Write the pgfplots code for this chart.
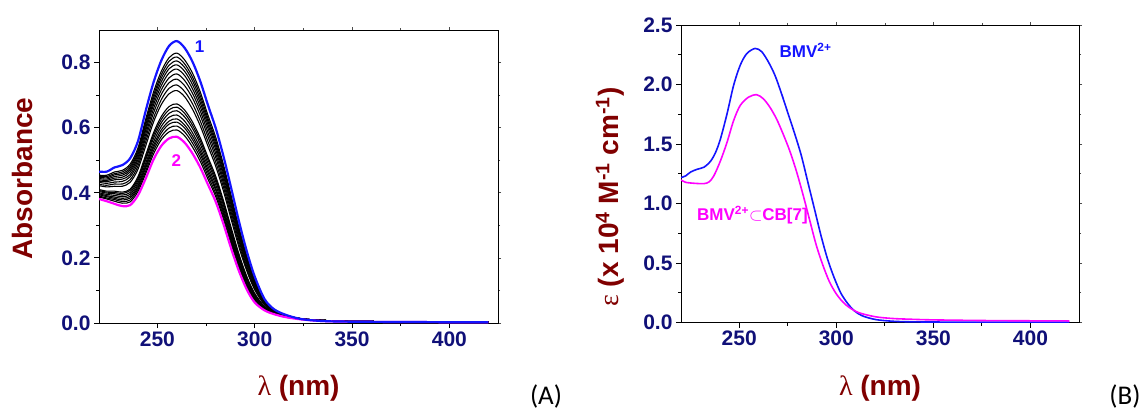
\documentclass[border=0pt]{standalone}
\usepackage{pgfplots}
\pgfplotsset{compat=1.18}
\usepackage{pgfplotstable}
\usepackage{fontspec}
\setmainfont{Liberation Sans}
\newfontfamily\serifsym{Liberation Serif}
\newfontfamily\carlito{Carlito}
\definecolor{navy}{RGB}{16,16,120}
\definecolor{maroon}{RGB}{128,0,0}
\definecolor{cblue}{RGB}{20,20,255}
\definecolor{cmag}{RGB}{255,0,255}

\pgfplotstableread{
x b c1 c2 c3 c4 c5 c6 c7 c8 c9 c10 c11 c12 c13 c14 c15 c16 c17 m
220 .465 .454 .451 .448 .444 .440 .436 .432 .426 .422 .410 .407 .404 .400 .397 .394 .390 .387 .381
224 .465 .454 .450 .446 .442 .438 .434 .429 .423 .418 .405 .402 .399 .395 .391 .388 .384 .381 .374
228 .478 .464 .459 .455 .450 .445 .440 .433 .427 .420 .405 .401 .397 .392 .387 .383 .379 .374 .366
232 .485 .469 .464 .459 .454 .448 .442 .435 .427 .420 .402 .398 .393 .388 .383 .378 .373 .368 .359
236 .506 .488 .482 .476 .470 .464 .456 .449 .440 .432 .411 .407 .401 .395 .389 .384 .378 .372 .362
240 .558 .537 .530 .524 .517 .509 .501 .492 .482 .472 .449 .443 .437 .430 .423 .417 .411 .404 .392
244 .652 .626 .617 .609 .600 .591 .580 .569 .557 .544 .516 .508 .501 .491 .483 .476 .467 .459 .444
248 .739 .709 .699 .690 .680 .670 .658 .645 .630 .617 .584 .576 .567 .556 .546 .538 .529 .519 .502
252 .806 .773 .762 .752 .741 .729 .716 .702 .686 .671 .634 .625 .615 .604 .593 .584 .573 .563 .544
256 .851 .815 .804 .792 .781 .768 .753 .738 .721 .704 .665 .655 .644 .632 .620 .611 .599 .587 .567
260 .866 .829 .817 .805 .793 .780 .765 .749 .731 .714 .673 .663 .652 .639 .627 .617 .605 .593 .572
264 .845 .808 .796 .785 .773 .760 .745 .729 .711 .695 .654 .644 .633 .620 .608 .599 .587 .575 .554
268 .803 .768 .756 .745 .733 .720 .706 .691 .674 .657 .618 .608 .598 .585 .574 .564 .553 .541 .521
272 .743 .710 .699 .688 .677 .665 .652 .638 .621 .606 .569 .560 .550 .538 .528 .519 .508 .497 .478
276 .669 .638 .628 .619 .609 .598 .585 .572 .557 .543 .509 .501 .491 .481 .471 .462 .452 .442 .425
280 .598 .570 .560 .551 .542 .532 .520 .508 .494 .481 .450 .442 .434 .424 .414 .407 .397 .388 .372
284 .511 .485 .476 .468 .459 .450 .439 .428 .416 .404 .375 .368 .360 .350 .342 .335 .326 .318 .303
288 .412 .389 .381 .374 .366 .358 .348 .338 .327 .316 .291 .284 .277 .269 .262 .255 .248 .240 .227
292 .310 .291 .285 .279 .272 .266 .258 .250 .240 .231 .210 .205 .199 .193 .186 .181 .175 .169 .158
296 .219 .204 .200 .195 .190 .185 .179 .172 .165 .159 .142 .138 .134 .129 .124 .120 .115 .110 .102
300 .143 .133 .130 .126 .123 .120 .116 .111 .106 .102 .091 .088 .085 .081 .078 .075 .072 .069 .063
305 .074 .070 .068 .067 .065 .064 .062 .060 .058 .056 .051 .050 .049 .047 .046 .044 .043 .042 .039
310 .042 .040 .040 .039 .038 .038 .037 .036 .035 .034 .032 .032 .031 .030 .030 .029 .029 .028 .027
316 .025 .024 .024 .024 .023 .023 .023 .022 .022 .021 .020 .020 .020 .020 .019 .019 .019 .018 .018
324 .012 .013 .013 .013 .013 .013 .013 .013 .013 .013 .012 .012 .012 .012 .012 .012 .012 .012 .011
335 .006 .008 .008 .008 .008 .008 .008 .008 .008 .008 .008 .008 .008 .008 .008 .008 .008 .008 .006
350 .004 .005 .005 .005 .005 .005 .005 .005 .005 .005 .005 .005 .005 .005 .005 .005 .005 .005 .004
380 .003 .004 .004 .004 .004 .004 .004 .004 .004 .004 .004 .004 .004 .004 .004 .004 .004 .004 .003
420 .002 .003 .003 .003 .003 .003 .003 .003 .003 .003 .003 .003 .003 .003 .003 .003 .003 .003 .002
}\dataA

\pgfplotstableread{
x y
220 1.218
222.4 1.232
225 1.265
228.4 1.288
231.8 1.305
235.2 1.355
237.8 1.429
240.3 1.542
243.7 1.753
247.1 1.993
250.5 2.162
253.9 2.260
258.2 2.303
261.6 2.275
265 2.190
268.4 2.077
271.8 1.922
275.2 1.753
278.6 1.584
282 1.401
285.4 1.175
288.8 0.950
292.2 0.724
295.6 0.527
299 0.372
302.4 0.245
305.8 0.161
309.2 0.099
313.4 0.056
320.2 0.025
328.7 0.011
337.2 0.006
350 0.004
380 0.003
420 0.003
}\blueB

\pgfplotstableread{
x y
220 1.198
222.4 1.178
226.7 1.170
231.8 1.167
234.4 1.181
236.9 1.232
240.3 1.358
243.7 1.514
247.1 1.697
250.5 1.824
254.8 1.894
259 1.914
262.4 1.880
265.8 1.809
269.2 1.711
272.6 1.584
276 1.443
279.4 1.274
282.8 1.077
286.2 0.865
289.6 0.654
293 0.485
296.4 0.344
299.8 0.245
303.2 0.175
306.6 0.127
311.7 0.082
320.2 0.048
328.7 0.034
337.2 0.028
350 0.022
380 0.016
420 0.013
}\magB

\pgfplotsset{
  myaxis/.style={
    scale only axis,
    axis line style={black, line width=0.9pt},
    tick align=outside, tick pos=left,
    major tick length=5pt, minor tick length=3pt,
    every tick/.style={black, line width=0.9pt},
    xmin=220, xmax=425, xtick={250,300,350,400}, minor x tick num=1,
    minor y tick num=1,
    tick label style={font=\fontsize{21}{24}\selectfont\bfseries, text=navy},
    /pgf/number format/assume math mode=true,
    yticklabel style={/pgf/number format/.cd, fixed, fixed zerofill, precision=1},
    xticklabel style={/pgf/number format/.cd, 1000 sep={}},
    every axis x label/.style={font=\fontsize{28}{32}\selectfont\bfseries, text=maroon, anchor=center},
    every axis y label/.style={font=\fontsize{28}{32}\selectfont\bfseries, text=maroon, anchor=center, rotate=90},
  },
  mirror/.style={
    scale only axis,
    axis line style={draw=none},
    axis x line*=top, axis y line*=right,
    tick align=outside,
    major tick length=3pt, minor tick length=2pt,
    every tick/.style={black!70, line width=0.7pt},
    xmin=220, xmax=425, xtick={250,300,350,400}, minor x tick num=1,
    minor y tick num=1,
    xticklabels={}, yticklabels={},
  }
}

\begin{document}
\begin{tikzpicture}

\begin{scope}[shift={(99pt,87pt)}]
\begin{axis}[mirror, width=399pt, height=293pt, ymin=0, ymax=0.9, ytick={0,0.2,0.4,0.6,0.8}]
\end{axis}
\begin{axis}[myaxis, width=399pt, height=293pt,
  ymin=0, ymax=0.9, ytick={0,0.2,0.4,0.6,0.8},
  xlabel={{\serifsym\mdseries λ} (nm)},
  ylabel={Absorbance},
  xlabel style={at={(axis description cs:0.5,-0.222)}},
  ylabel style={at={(axis description cs:-0.193,0.493)}},
]
\pgfplotsinvokeforeach{1,...,17}{
  \addplot[black, line width=1.1pt, smooth] table[x=x, y=c#1] {\dataA};
}
\addplot[cmag, line width=2.2pt, smooth] table[x=x, y=m] {\dataA};
\addplot[cblue, line width=2.2pt, smooth] table[x=x, y=b] {\dataA};
\node[text=cblue, font=\fontsize{17}{20}\selectfont\bfseries] at (axis cs:271.7,0.849) {1};
\node[text=cmag, font=\fontsize{17}{20}\selectfont\bfseries] at (axis cs:259.7,0.50) {2};
\end{axis}
\end{scope}

\begin{scope}[shift={(681pt,87.5pt)}]
\begin{axis}[mirror, width=398pt, height=297.5pt, ymin=0, ymax=2.5, ytick={0,0.5,1,1.5,2,2.5}]
\end{axis}
\begin{axis}[myaxis, width=398pt, height=297.5pt,
  ymin=0, ymax=2.5, ytick={0,0.5,1,1.5,2,2.5},
  xlabel={{\serifsym\mdseries λ} (nm)},
  ylabel={{\serifsym\mdseries ε} (x 10\textsuperscript{4} M\textsuperscript{-1} cm\textsuperscript{-1})},
  xlabel style={at={(axis description cs:0.5,-0.22)}},
  ylabel style={at={(axis description cs:-0.178,0.422)}},
]
\addplot[cblue, line width=1.6pt, smooth] table[x=x, y=y] {\blueB};
\addplot[cmag, line width=1.6pt, smooth] table[x=x, y=y] {\magB};
\node[anchor=west, text=cblue, font=\fontsize{17}{20}\selectfont\bfseries] at (axis cs:269,2.29) {BMV\textsuperscript{2+}};
\node[anchor=west, text=cmag, font=\fontsize{17}{20}\selectfont\bfseries] at (axis cs:226.5,0.905) {BMV\textsuperscript{2+}$\subset$CB[7]};
\end{axis}
\end{scope}

\node[font=\carlito\fontsize{27}{30}\selectfont] at (546pt,13.5pt) {(A)};
\node[font=\carlito\fontsize{27}{30}\selectfont] at (1125pt,13.5pt) {(B)};

\pgfresetboundingbox
\path[use as bounding box] (0pt,0pt) rectangle (1145pt,410pt);
\end{tikzpicture}
\end{document}
